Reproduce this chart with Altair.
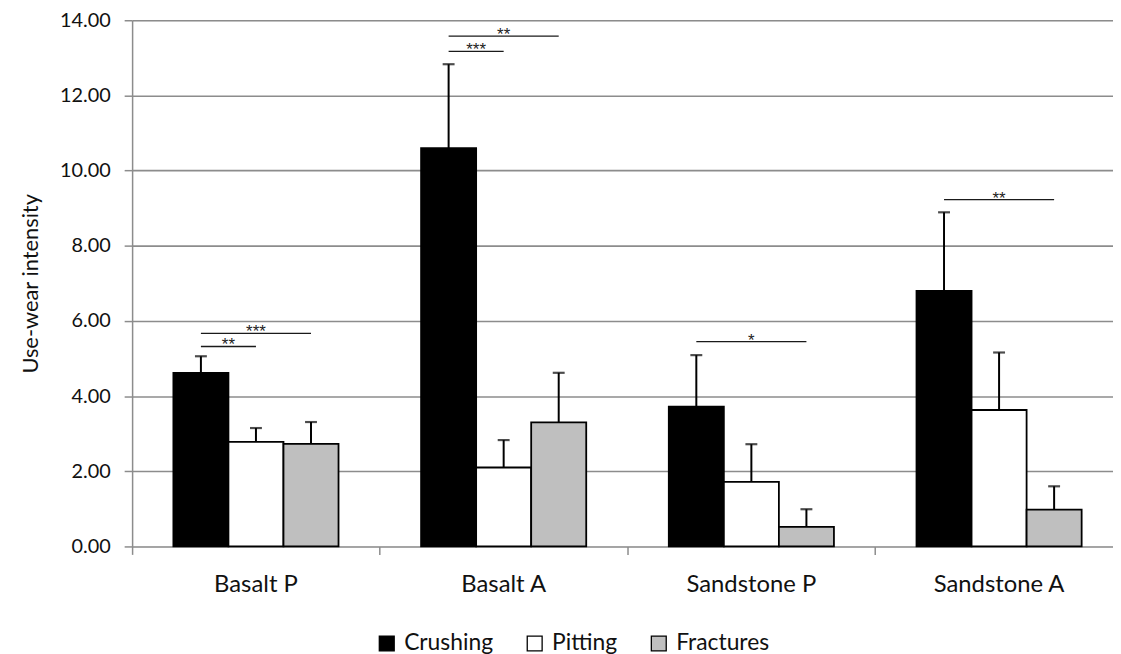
import altair as alt
import pandas as pd

categories = ["Basalt P", "Basalt A", "Sandstone P", "Sandstone A"]
series = ["Crushing", "Pitting", "Fractures"]
colors = ["#000000", "#ffffff", "#bfbfbf"]

crushing = [4.62, 10.60, 3.72, 6.80]
pitting = [2.78, 2.10, 1.72, 3.63]
fractures = [2.73, 3.30, 0.52, 0.98]
crushing_err = [0.44, 2.23, 1.37, 2.09]
pitting_err = [0.37, 0.73, 1.00, 1.53]
fractures_err = [0.58, 1.32, 0.47, 0.62]

sig_category = ["Basalt P", "Basalt P", "Basalt A", "Basalt A", "Sandstone P", "Sandstone A"]
sig_from = ["Crushing", "Crushing", "Crushing", "Crushing", "Crushing", "Crushing"]
sig_to = ["Pitting", "Fractures", "Pitting", "Fractures", "Fractures", "Fractures"]
sig_level = [5.32, 5.67, 13.17, 13.58, 5.45, 9.23]
sig_stars = ["**", "***", "***", "**", "*", "**"]

y_ticks = [0, 2, 4, 6, 8, 10, 12, 14]

FONT = "Lato"
GRID = "#8c8c8c"

rows = []
for s, vals, errs in zip(series, [crushing, pitting, fractures],
                         [crushing_err, pitting_err, fractures_err]):
    for c, v, e in zip(categories, vals, errs):
        rows.append({"category": c, "series": s, "value": v, "top": v + e})
bars_df = pd.DataFrame(rows)

line_rows, text_adj, text_far = [], [], []
for i, (c, a, b, lv, st) in enumerate(zip(sig_category, sig_from, sig_to, sig_level, sig_stars)):
    line_rows.append({"category": c, "series": a, "level": lv, "gid": i})
    line_rows.append({"category": c, "series": b, "level": lv, "gid": i})
    ia, ib = series.index(a), series.index(b)
    if ib - ia == 1:
        text_adj.append({"category": c, "series": a, "level": lv, "stars": st})
    else:
        text_far.append({"category": c, "series": series[(ia + ib) // 2], "level": lv, "stars": st})
lines_df = pd.DataFrame(line_rows)
adj_df = pd.DataFrame(text_adj)
far_df = pd.DataFrame(text_far)

PLOT_W = 988
STEP_W = 998  # category range (last band runs past the visible edge, as in the cropped original)
xscale = alt.Scale(domain=categories, range=[0, STEP_W], paddingInner=0, paddingOuter=0)
OPAD = 0.75
oscale = alt.Scale(domain=series, paddingInner=0, paddingOuter=OPAD)
bar_w = STEP_W / 4 / (3 + 2 * OPAD)
yscale = alt.Scale(domain=[0, 14], nice=False)

X = alt.X("category:N", sort=categories, scale=xscale,
          axis=alt.Axis(title=None, labelAngle=0, bandPosition=0, tickExtra=False,
                        tickSize=8, tickColor=GRID, tickWidth=1.5, domain=False,
                        labelFont=FONT, labelFontSize=24, labelColor="#111",
                        labelPadding=18, grid=False))
Y = alt.Y("value:Q", scale=yscale,
          axis=alt.Axis(title="Use-wear intensity", values=y_ticks, format=".2f",
                        grid=True, gridColor=GRID, gridWidth=1.6,
                        tickSize=8, tickColor=GRID, tickWidth=1.5,
                        domainColor=GRID, domainWidth=1.5,
                        labelFont=FONT, labelFontSize=20, labelColor="#111",
                        labelPadding=14, titleFont=FONT, titleFontSize=22,
                        titleFontWeight="normal", titleColor="#111", titlePadding=17))

bars = alt.Chart(bars_df).mark_bar(stroke="black", strokeWidth=1.8).encode(
    x=X,
    xOffset=alt.XOffset("series:N", sort=series, scale=oscale),
    y=Y,
    fill=alt.Fill("series:N", sort=series, scale=alt.Scale(domain=series, range=colors),
                  legend=alt.Legend(title=None, orient="none", legendX=245, legendY=616,
                                    direction="horizontal", symbolType="square",
                                    symbolSize=225, symbolStrokeColor="black",
                                    symbolStrokeWidth=1.3, labelFont=FONT,
                                    labelFontSize=23, labelColor="#111",
                                    columnPadding=30, labelOffset=6, padding=0)),
)

err = alt.Chart(bars_df).mark_rule(color="black", strokeWidth=2).encode(
    x=alt.X("category:N", sort=categories),
    xOffset=alt.XOffset("series:N", sort=series),
    y=alt.Y("value:Q"),
    y2="top:Q",
)
caps = alt.Chart(bars_df).mark_tick(color="black", thickness=2.2, size=12).encode(
    x=alt.X("category:N", sort=categories),
    xOffset=alt.XOffset("series:N", sort=series),
    y=alt.Y("top:Q"),
)

sig_lines = alt.Chart(lines_df).mark_line(color="#1a1a1a", strokeWidth=1.3).encode(
    x=alt.X("category:N", sort=categories),
    xOffset=alt.XOffset("series:N", sort=series),
    y=alt.Y("level:Q"),
    detail="gid:N",
)

star_style = dict(font="Liberation Sans", fontSize=17, color="#222",
                  baseline="alphabetic", dy=4)
stars_adj = alt.Chart(adj_df).mark_text(dx=bar_w / 2, **star_style).encode(
    x=alt.X("category:N", sort=categories),
    xOffset=alt.XOffset("series:N", sort=series),
    y=alt.Y("level:Q"),
    text="stars:N",
)
stars_far = alt.Chart(far_df).mark_text(**star_style).encode(
    x=alt.X("category:N", sort=categories),
    xOffset=alt.XOffset("series:N", sort=series),
    y=alt.Y("level:Q"),
    text="stars:N",
)

chart = alt.layer(bars, err, caps, sig_lines, stars_adj, stars_far).properties(
    width=PLOT_W, height=530,
    autosize=alt.AutoSizeParams(type="none"),
    padding={"left": 125, "top": 10, "right": 0, "bottom": 106},
).configure_view(stroke=None).configure(background="white")

chart.save("out.html", embed_options={"renderer": "svg", "actions": False})
